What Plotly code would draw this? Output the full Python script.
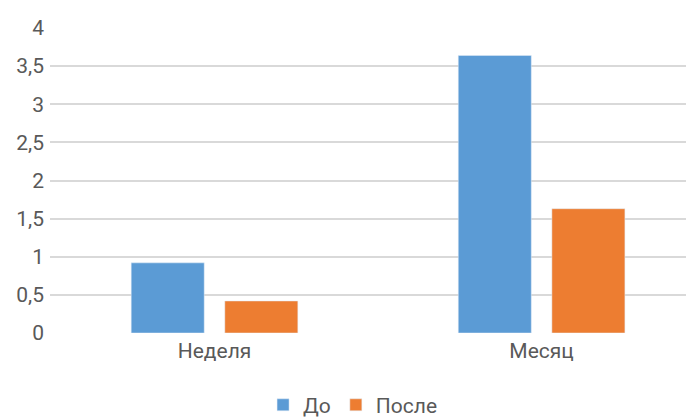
import plotly.graph_objects as go

categories = ["Неделя", "Месяц"]
series_names = ["До", "После"]
before_values = [0.92, 3.64]
after_values = [0.42, 1.63]
y_tick_values = [0, 0.5, 1, 1.5, 2, 2.5, 3, 3.5, 4]
y_tick_labels = ["0", "0,5", "1", "1,5", "2", "2,5", "3", "3,5", "4"]

colors = ["#5B9BD5", "#ED7D31"]

fig = go.Figure()
fig.add_trace(go.Bar(name=series_names[0], x=categories, y=before_values, marker_color=colors[0]))
fig.add_trace(go.Bar(name=series_names[1], x=categories, y=after_values, marker_color=colors[1]))

font_family = "Roboto, 'Open Sans', sans-serif"
text_color = "#595959"
fs = 21
fig.update_layout(
    width=686, height=409,
    margin=dict(l=42, r=0, t=20, b=84, autoexpand=False),
    paper_bgcolor="white", plot_bgcolor="white",
    barmode="group", bargap=0.4275, bargroupgap=0.22,
    font=dict(family=font_family, size=fs, color=text_color),
    showlegend=True,
    legend=dict(orientation="h", xref="container", yref="container",
                x=0.503, y=0.029, xanchor="center", yanchor="middle",
                font=dict(size=fs, color=text_color), itemwidth=30),
    xaxis=dict(range=[-0.503, 1.466], showgrid=False, zeroline=False, showline=False,
               ticks="", ticklabelstandoff=3, tickfont=dict(size=fs, color=text_color)),
    yaxis=dict(range=[0, 4], tickvals=y_tick_values, ticktext=y_tick_labels,
               showgrid=True, gridcolor="#D9D9D9", gridwidth=1.5, zeroline=False,
               showline=False, ticks="", ticklabelstandoff=5,
               tickfont=dict(size=fs, color=text_color)),
)

fig.write_html("out.html")
